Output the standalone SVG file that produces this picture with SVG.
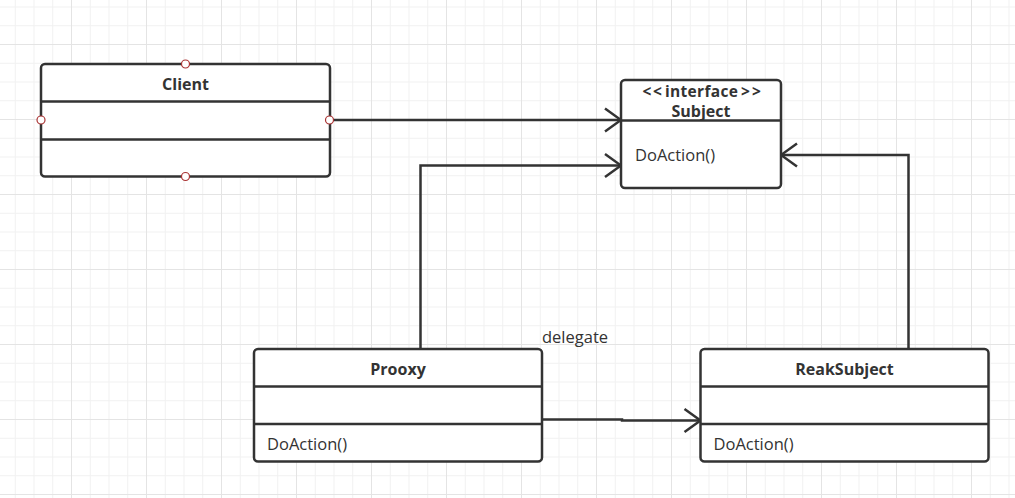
<svg xmlns="http://www.w3.org/2000/svg" width="1015" height="498" viewBox="0 0 1015 498">
<style>
.box{fill:#fff;stroke:#333;stroke-width:2.5}
.div{stroke:#333;stroke-width:2.5;fill:none}
.title{font-family:"Open Sans","Liberation Sans",sans-serif;font-weight:bold;font-size:16px;fill:#333;text-anchor:middle}
.stereo{font-family:"Open Sans","Liberation Sans",sans-serif;font-weight:bold;font-size:15.5px;fill:#333}
.op{font-family:"Open Sans","Liberation Sans",sans-serif;font-size:16.5px;fill:#333}
.conn{fill:none;stroke:#333;stroke-width:2.5}
.pt{fill:#fff;stroke:#a33;stroke-width:1.2}
.minor{stroke:#f1f1f1;stroke-width:1}
.major{stroke:#e4e4e4;stroke-width:1}
</style>
<defs>
<pattern id="grid" patternUnits="userSpaceOnUse" x="71" y="44" width="75" height="75">
<path class="minor" d="M19.25,0V75M38,0V75M56.75,0V75M0,19.25H75M0,38H75M0,56.75H75"/>
<path class="major" d="M0.5,0V75M0,0.5H75"/>
</pattern>
<marker id="arrow" markerUnits="userSpaceOnUse" viewBox="-19 -14 21 28" markerWidth="21" markerHeight="28" refX="0" refY="0" orient="auto">
<path d="M-16,-11.5L0,0L-16,11.5" fill="none" stroke="#333" stroke-width="2.5"/>
</marker>
</defs>
<rect width="1015" height="498" fill="#fff"/>
<rect width="1015" height="498" fill="url(#grid)"/>
<g id="connectors">
<path class="conn" d="M330,120H621" marker-end="url(#arrow)"/>
<path class="conn" d="M420.5,349V165.5H621" marker-end="url(#arrow)"/>
<path class="conn" d="M908.5,349V155H781" marker-end="url(#arrow)"/>
<path class="conn" d="M542,419.5H622V420.5H700.5" marker-end="url(#arrow)"/>
<text class="op" x="542" y="343">delegate</text>
</g>
<g id="client">
<rect class="box" x="41" y="64" width="289" height="112.5" rx="4"/>
<path class="div" d="M41,101.5H330M41,139.5H330"/>
<text class="title" x="185.5" y="90">Client</text>
<circle class="pt" cx="185.5" cy="64" r="4"/>
<circle class="pt" cx="41" cy="120" r="4"/>
<circle class="pt" cx="329.5" cy="120" r="4"/>
<circle class="pt" cx="185.5" cy="176.5" r="4"/>
</g>
<g id="subject">
<rect class="box" x="621" y="80" width="160" height="108" rx="4"/>
<path class="div" d="M621,120.5H781"/>
<text class="stereo" y="97"><tspan x="642.5">&lt;</tspan><tspan x="653">&lt;</tspan><tspan x="665" textLength="73" lengthAdjust="spacing">interface</tspan><tspan x="741">&gt;</tspan><tspan x="752">&gt;</tspan></text>
<text class="title" x="701" y="117">Subject</text>
<text class="op" x="635" y="161">DoAction()</text>
</g>
<g id="prooxy">
<rect class="box" x="254" y="349" width="288" height="112.5" rx="4"/>
<path class="div" d="M254,386.5H542M254,424H542"/>
<text class="title" x="398" y="375">Prooxy</text>
<text class="op" x="267" y="450">DoAction()</text>
</g>
<g id="reaksubject">
<rect class="box" x="700.5" y="349" width="288" height="112.5" rx="4"/>
<path class="div" d="M700.5,386.5H988.5M700.5,424H988.5"/>
<text class="title" x="844.5" y="375">ReakSubject</text>
<text class="op" x="713.5" y="450">DoAction()</text>
</g>
</svg>
